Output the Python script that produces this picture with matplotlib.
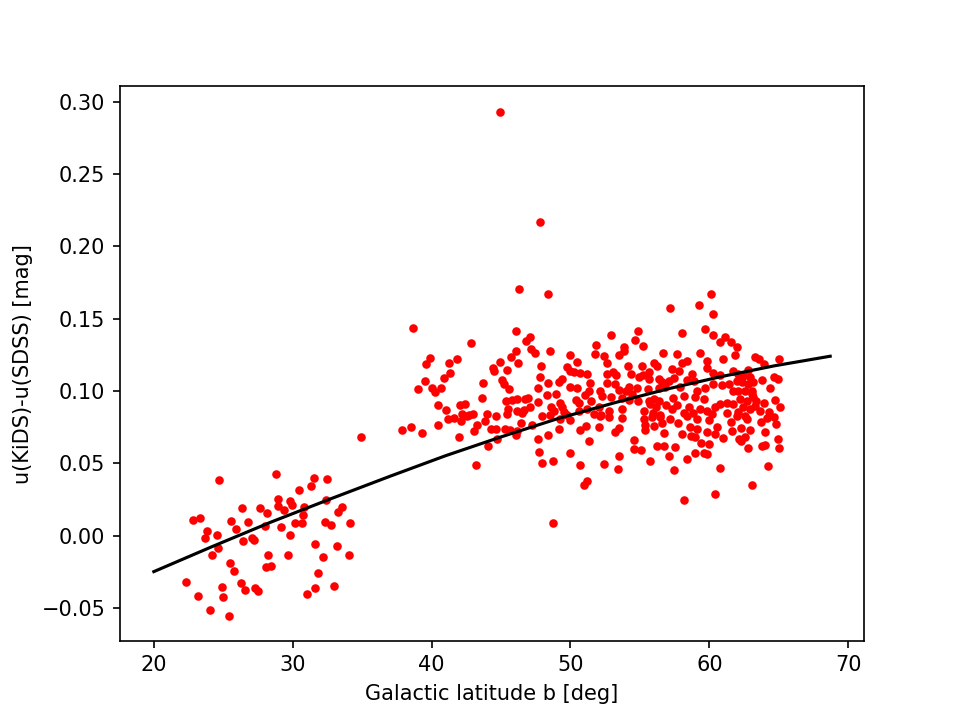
import numpy as np
import matplotlib
matplotlib.use('Agg')
import matplotlib.pyplot as plt

# low-latitude fields
b_low = [24.68, 22.84, 23.32, 23.85, 23.70, 24.57, 24.59, 24.18, 26.34, 25.53,
         25.94, 26.75, 26.41, 27.09, 27.23, 27.61, 28.12, 27.97, 28.21, 28.06,
         25.45, 25.76, 22.34, 23.20, 24.90, 25.00, 26.27, 26.60, 27.25, 27.47,
         24.04, 25.40, 28.83, 31.55, 32.45, 31.35, 30.47, 28.93, 29.82, 29.96,
         28.96, 29.36, 30.80, 32.38, 33.56, 33.27, 30.73, 30.68, 30.15, 29.14,
         32.36, 32.74, 34.09, 29.79, 31.64, 33.22, 29.65, 32.17, 34.04, 28.47,
         31.83, 31.57, 31.01, 32.99]
du_low = [0.0385, 0.0109, 0.0122, 0.0035, -0.0019, 0.0005, -0.0088, -0.0133, 0.0189, 0.0104,
          0.0044, 0.0095, -0.0037, -0.0019, -0.0030, 0.0191, 0.0154, 0.0067, -0.0131, -0.0219,
          -0.0191, -0.0242, -0.0323, -0.0417, -0.0357, -0.0424, -0.0325, -0.0375, -0.0364, -0.0382,
          -0.0514, -0.0553, 0.0426, 0.0399, 0.0392, 0.0343, 0.0318, 0.0256, 0.0242, 0.0212,
          0.0203, 0.0178, 0.0200, 0.0249, 0.0196, 0.0166, 0.0143, 0.0090, 0.0085, 0.0062,
          0.0097, 0.0076, 0.0090, 0.0002, -0.0057, -0.0069, -0.0131, -0.0147, -0.0131, -0.0209,
          -0.0261, -0.0364, -0.0401, -0.0346]

# high-latitude fields, b < 47
b_mid = [38.67, 39.86, 39.63, 41.26, 41.35, 40.87, 39.50, 39.05, 40.06, 40.68,
         40.27, 40.47, 41.04, 41.21, 40.47, 37.90, 38.50, 39.29, 34.93, 46.08,
         42.86, 46.82, 46.08, 45.69, 46.22, 44.93, 44.42, 44.52, 45.45, 41.81,
         43.73, 45.07, 45.22, 45.55, 43.65, 45.38, 45.79, 46.17, 46.75, 45.52,
         46.15, 46.51, 42.05, 42.43, 42.17, 42.67, 42.96, 43.96, 44.61, 45.40,
         41.64, 42.12, 42.58, 43.82, 43.29, 43.06, 44.28, 44.61, 45.31, 45.62,
         46.12, 46.46, 46.08, 44.71, 44.06, 41.95, 43.22, 46.32, 44.95]
du_mid = [0.1433, 0.1225, 0.1187, 0.1191, 0.1127, 0.1087, 0.1067, 0.1011, 0.1021, 0.1021,
          0.0991, 0.0903, 0.0871, 0.0809, 0.0762, 0.0731, 0.0749, 0.0710, 0.0682, 0.1417,
          0.1334, 0.1343, 0.1274, 0.1237, 0.1191, 0.1201, 0.1156, 0.1136, 0.1147, 0.1223,
          0.1055, 0.1078, 0.1046, 0.1014, 0.0954, 0.0928, 0.0935, 0.0947, 0.0945, 0.0873,
          0.0864, 0.0845, 0.0903, 0.0910, 0.0841, 0.0834, 0.0841, 0.0841, 0.0829, 0.0838,
          0.0811, 0.0795, 0.0825, 0.0795, 0.0767, 0.0726, 0.0738, 0.0735, 0.0738, 0.0731,
          0.0726, 0.0776, 0.0696, 0.0668, 0.0622, 0.0684, 0.0489, 0.1707, 0.2931]

# 47 < b < 52.5
b_c = [47.06, 47.16, 47.45, 48.55, 47.88, 49.94, 50.47, 49.75, 49.99, 50.27,
       50.71, 51.19, 51.86, 51.78, 49.36, 49.17, 47.83, 48.35, 51.42, 49.94,
       50.47, 47.68, 48.31, 48.98, 51.37, 51.06, 51.47, 46.91, 47.63, 50.42,
       50.65, 49.27, 49.36, 48.60, 47.06, 46.68, 48.78, 49.50, 49.75, 51.19,
       51.66, 52.14, 50.58, 47.97, 48.50, 49.27, 49.99, 47.25, 49.17, 50.71,
       51.14, 52.05, 47.63, 48.40, 51.37, 47.73, 49.99, 47.92, 48.74, 50.71,
       51.19, 50.94, 48.71, 48.40, 47.83]
du_c = [0.1375, 0.1288, 0.1263, 0.1279, 0.1175, 0.1249, 0.1198, 0.1163, 0.1140, 0.1129,
        0.1122, 0.1118, 0.1320, 0.1256, 0.1080, 0.1062, 0.1094, 0.1058, 0.1058, 0.1030,
        0.1021, 0.1021, 0.0975, 0.0979, 0.0997, 0.0975, 0.0928, 0.0952, 0.0924, 0.0938,
        0.0914, 0.0914, 0.0887, 0.0892, 0.0887, 0.0869, 0.0859, 0.0855, 0.0832, 0.0876,
        0.0841, 0.0829, 0.0859, 0.0827, 0.0832, 0.0804, 0.0800, 0.0767, 0.0735, 0.0731,
        0.0760, 0.0753, 0.0668, 0.0696, 0.0657, 0.0576, 0.0569, 0.0505, 0.0514, 0.0489,
        0.0380, 0.0353, 0.0088, 0.1673, 0.2170]

# 52.5 < b < 57.6
b_d = [57.16, 54.86, 54.66, 52.94, 55.19, 53.89, 53.85, 53.51, 52.41, 52.60,
       56.63, 54.14, 55.14, 56.01, 56.24, 57.30, 55.67, 52.65, 53.03, 53.27,
       54.37, 54.90, 55.24, 55.62, 56.34, 56.58, 57.06, 57.45, 52.60, 53.22,
       54.18, 54.76, 55.58, 56.34, 56.82, 52.12, 53.51, 53.99, 54.42, 52.27,
       52.94, 53.71, 54.18, 54.86, 55.62, 56.01, 56.34, 55.72, 56.15, 56.87,
       57.30, 52.02, 52.74, 53.71, 55.29, 55.96, 56.48, 52.22, 52.74, 53.71,
       55.29, 55.86, 56.44, 57.20, 55.38, 56.01, 56.58, 53.46, 53.22, 55.38,
       56.73, 54.57, 54.61, 55.09, 56.24, 56.73, 57.54, 57.11, 53.46, 55.76,
       52.45, 53.42, 57.45]
du_d = [0.1576, 0.1412, 0.1353, 0.1384, 0.1313, 0.1302, 0.1279, 0.1251, 0.1244, 0.1191,
        0.1265, 0.1173, 0.1173, 0.1191, 0.1173, 0.1149, 0.1129, 0.1118, 0.1131, 0.1108,
        0.1118, 0.1099, 0.1113, 0.1080, 0.1085, 0.1062, 0.1071, 0.1090, 0.1058, 0.1049,
        0.1030, 0.1021, 0.1011, 0.1021, 0.1030, 0.1002, 0.1007, 0.1002, 0.0979, 0.0966,
        0.0956, 0.0952, 0.0938, 0.0928, 0.0933, 0.0942, 0.0928, 0.0910, 0.0892, 0.0901,
        0.0873, 0.0887, 0.0864, 0.0878, 0.0864, 0.0850, 0.0836, 0.0832, 0.0818, 0.0813,
        0.0809, 0.0823, 0.0818, 0.0809, 0.0767, 0.0758, 0.0781, 0.0742, 0.0717, 0.0731,
        0.0707, 0.0661, 0.0597, 0.0592, 0.0617, 0.0620, 0.0610, 0.0553, 0.0551, 0.0516,
        0.0496, 0.0458, 0.0454]

# b > 57.6
b_e = [60.15, 59.24, 60.25, 58.04, 59.72, 60.29, 61.16, 60.78, 61.55, 61.98,
       61.83, 57.66, 59.34, 59.82, 61.01, 58.38, 58.04, 57.81, 59.82, 60.29,
       60.78, 61.69, 58.76, 58.86, 58.38, 60.25, 60.92, 61.40, 61.98, 59.68,
       57.90, 59.10, 61.73, 58.14, 59.00, 59.58, 57.37, 60.78, 61.26, 61.73,
       60.44, 57.66, 58.53, 59.34, 59.82, 58.14, 58.81, 60.20, 61.26, 61.98,
       58.38, 59.10, 60.01, 57.71, 60.54, 61.55, 58.62, 59.10, 61.64, 58.04,
       58.71, 59.82, 60.44, 58.96, 62.12, 60.97, 59.43, 60.01, 58.96, 59.58,
       59.86, 58.38, 60.78, 60.40, 58.14,
       63.30, 63.58, 65.02, 63.96, 62.81, 62.09, 62.45, 62.94, 62.34, 62.81,
       63.17, 62.09, 62.58, 63.06, 62.22, 62.70, 63.17, 62.45, 62.94, 62.05,
       62.58, 63.30, 63.78, 64.68, 64.93, 64.40, 63.10, 63.35, 63.92, 64.73,
       65.07, 63.68, 64.30, 64.16, 64.64, 64.83, 63.73, 62.72, 62.29, 62.96,
       64.01, 64.93, 62.58, 62.29, 65.02, 63.78, 64.01, 62.77, 64.21, 63.10]
du_e = [0.1671, 0.1597, 0.1532, 0.1403, 0.1429, 0.1389, 0.1371, 0.1339, 0.1339, 0.1306,
        0.1251, 0.1256, 0.1260, 0.1210, 0.1221, 0.1205, 0.1196, 0.1140, 0.1159, 0.1122,
        0.1113, 0.1140, 0.1118, 0.1071, 0.1076, 0.1049, 0.1044, 0.1049, 0.1071, 0.1021,
        0.1025, 0.1002, 0.1002, 0.0966, 0.0961, 0.0947, 0.0952, 0.0910, 0.0914, 0.0910,
        0.0892, 0.0905, 0.0892, 0.0876, 0.0864, 0.0845, 0.0845, 0.0841, 0.0850, 0.0829,
        0.0829, 0.0807, 0.0800, 0.0776, 0.0749, 0.0783, 0.0749, 0.0738, 0.0721, 0.0703,
        0.0691, 0.0714, 0.0703, 0.0680, 0.0668, 0.0675, 0.0638, 0.0634, 0.0569, 0.0574,
        0.0565, 0.0527, 0.0468, 0.0288, 0.0247,
        0.1232, 0.1219, 0.1223, 0.1187, 0.1145, 0.1118, 0.1106, 0.1094, 0.1060, 0.1049,
        0.1060, 0.1002, 0.1002, 0.1002, 0.0945, 0.0933, 0.0956, 0.0887, 0.0876, 0.0852,
        0.0829, 0.0899, 0.1076, 0.1094, 0.1080, 0.1021, 0.0979, 0.0928, 0.0914, 0.0938,
        0.0892, 0.0859, 0.0855, 0.0813, 0.0818, 0.0772, 0.0786, 0.0804, 0.0744, 0.0731,
        0.0717, 0.0666, 0.0680, 0.0657, 0.0606, 0.0620, 0.0629, 0.0606, 0.0479, 0.0348]

# fitted trend
fit_b = [20.0, 24.2, 28.4, 32.7, 37.0, 41.0, 44.9, 49.0, 53.2, 57.0, 60.8, 64.7, 68.7]
fit_du = [-0.0249, -0.0076, 0.0092, 0.0253, 0.0410, 0.0552, 0.0679, 0.0806, 0.0919,
          0.1014, 0.1098, 0.1174, 0.1240]

b_all = np.concatenate([b_low, b_mid, b_c, b_d, b_e])
du_all = np.concatenate([du_low, du_mid, du_c, du_d, du_e])

fig = plt.figure(figsize=(6.4, 4.8), dpi=150)
ax = fig.add_subplot(111)
ax.scatter(b_all, du_all, s=17, c='red', linewidths=0)
ax.plot(fit_b, fit_du, color='k', lw=1.5)
ax.set_xlabel('Galactic latitude b [deg]')
ax.set_ylabel('u(KiDS)-u(SDSS) [mag]')

fig.savefig('out.png', dpi=150)
